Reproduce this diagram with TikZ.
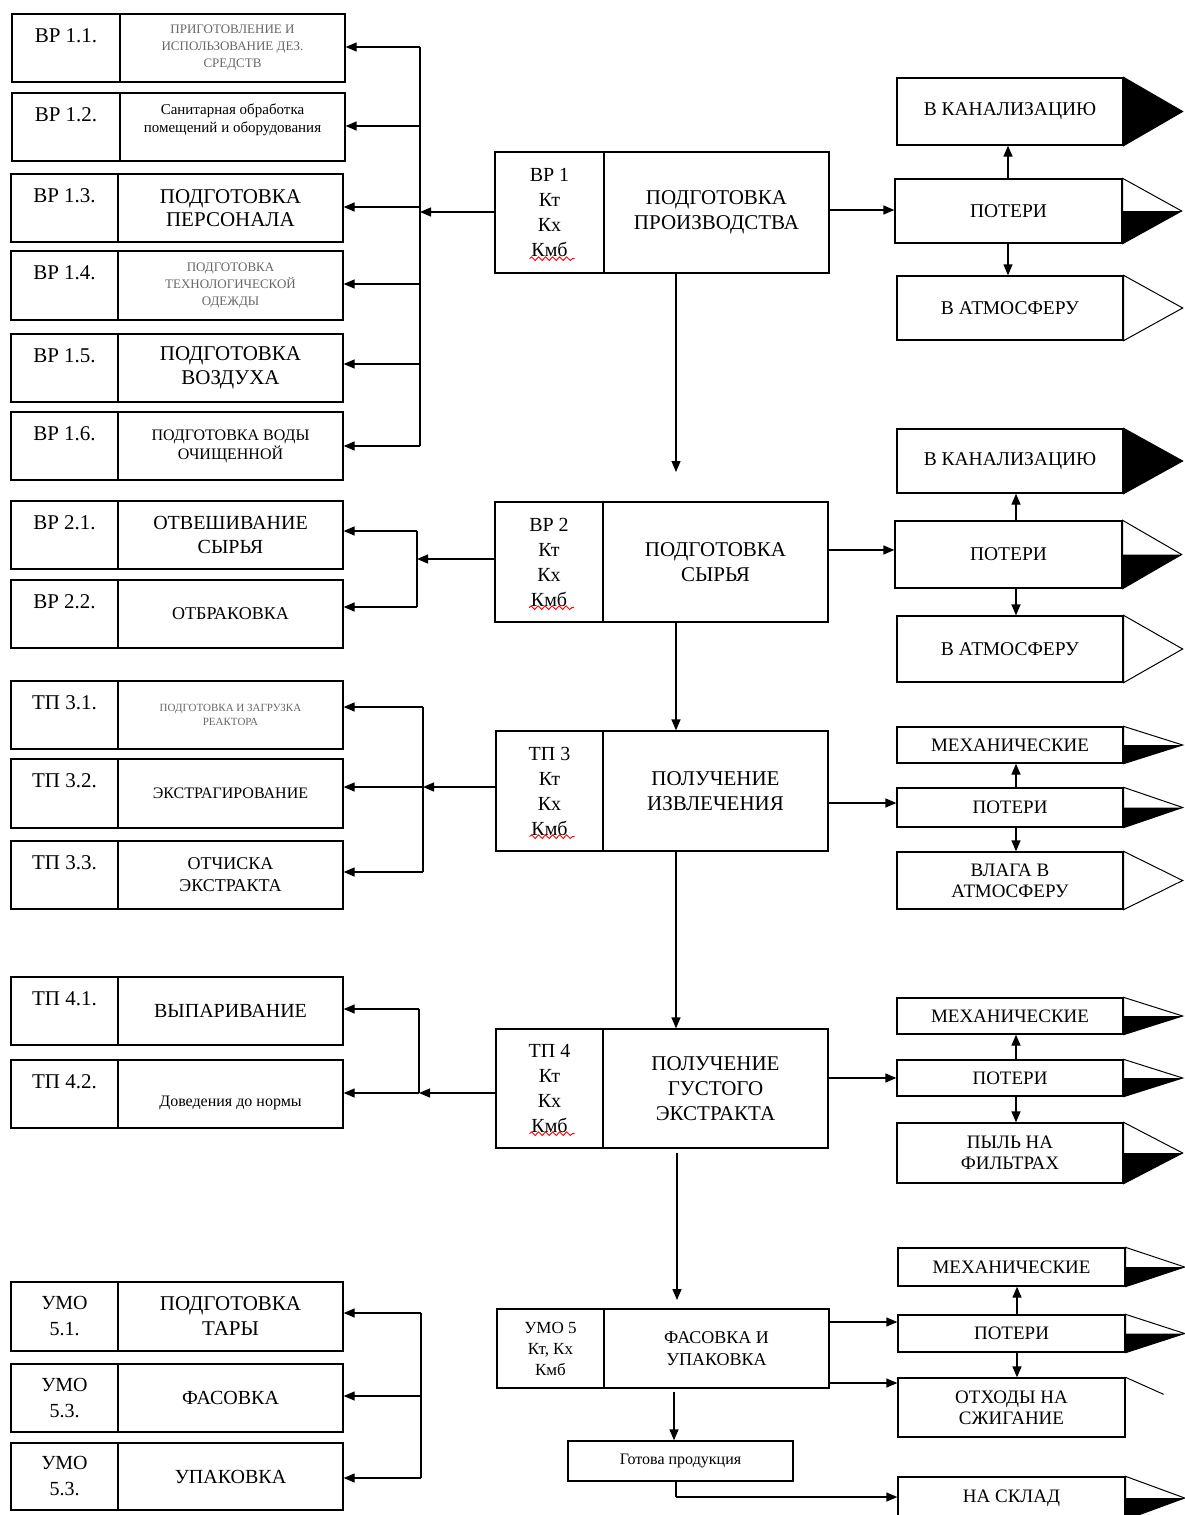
\documentclass[tikz,border=0pt]{standalone}
\usepackage{fontspec}
\setmainfont{Liberation Serif}
\usetikzlibrary{arrows.meta,calc,decorations.pathmorphing}
\newcommand\fsz[2]{\fontsize{#1}{#2}\selectfont}
\newcommand\bxn[6][]{\node[bx,#1, minimum width={(#5-#3)*1pt}, minimum height={(#6-#4)*1pt}] (#2) at ({(#3+#5)/2},{(#4+#6)/2})}
\newcommand\mytriB[1]{\filldraw[line width=1pt] (#1.north east) -- ($(#1.east)+(59,0)$) -- (#1.south east) -- cycle;}
\newcommand\mytriW[1]{\filldraw[tri] (#1.north east) -- ($(#1.east)+(59,0)$) -- (#1.south east) -- cycle;}
\newcommand\mytriH[1]{\filldraw[tri] (#1.north east) -- ($(#1.east)+(59,0)$) -- (#1.south east) -- cycle;
  \fill ($(#1.east)+(-0.5,0)$) -- ($(#1.east)+(59,0)$) -- (#1.south east) -- cycle;}
\begin{document}
\begin{tikzpicture}[x=1pt,y=-1pt,
 bx/.style={draw, line width=1.3pt, inner sep=0pt, align=center},
 lbl/.style={anchor=north, inner sep=0pt, yshift=-15pt, font=\fsz{21}{24}},
 clbl/.style={inner sep=0pt, align=center, font=\fsz{20}{26}},
 arr/.style={line width=1.3pt, -{Triangle[length=11pt,width=9pt]}},
 ln/.style={line width=1.3pt},
 wavy/.style={draw=red, line width=0.9pt, decorate, decoration={snake, amplitude=1.8pt, segment length=7pt}},
 tri/.style={draw, line width=1pt, fill=white},
 gr/.style={text=black!60},
 rt/.style={font=\fsz{19.5}{22}},
 rs/.style={font=\fsz{19}{21}},
 mk/.style={font=\fsz{20}{25}},
 mt/.style={font=\fsz{21}{25}},
]
\useasboundingbox (0,0) rectangle (1185,1515);

% ---------- left group 1
\bxn[label={[lbl]north:ВР 1.1.}]{l11a}{12}{14}{120}{82} {};
\bxn[font=\fsz{13}{17}, gr]{l11b}{120}{14}{345}{82} {ПРИГОТОВЛЕНИЕ И\\ИСПОЛЬЗОВАНИЕ ДЕЗ.\\СРЕДСТВ};
\bxn[label={[lbl]north:ВР 1.2.}]{l12a}{12}{93}{120}{161} {};
\bxn[label={[font=\fsz{15}{18}, align=center, yshift=7pt]center:Санитарная обработка\\помещений и оборудования}]{l12b}{120}{93}{345}{161} {};
\bxn[label={[lbl]north:ВР 1.3.}]{l13a}{11}{174}{118}{242} {};
\bxn[font=\fsz{21}{23}]{l13b}{118}{174}{343}{242} {ПОДГОТОВКА\\ПЕРСОНАЛА};
\bxn[label={[lbl]north:ВР 1.4.}]{l14a}{11}{251}{118}{320} {};
\bxn[font=\fsz{13}{17}, gr]{l14b}{118}{251}{343}{320} {ПОДГОТОВКА\\ТЕХНОЛОГИЧЕСКОЙ\\ОДЕЖДЫ};
\bxn[label={[lbl]north:ВР 1.5.}]{l15a}{11}{334}{118}{402} {};
\bxn[font=\fsz{21}{24}]{l15b}{118}{334}{343}{402} {ПОДГОТОВКА\\ВОЗДУХА};
\bxn[label={[lbl]north:ВР 1.6.}]{l16a}{11}{412}{118}{480} {};
\bxn[font=\fsz{16}{19}]{l16b}{118}{412}{343}{480} {ПОДГОТОВКА ВОДЫ\\ОЧИЩЕННОЙ};
% ---------- left group 2
\bxn[label={[lbl]north:ВР 2.1.}]{l21a}{11}{501}{118}{569} {};
\bxn[font=\fsz{20}{24}]{l21b}{118}{501}{343}{569} {ОТВЕШИВАНИЕ\\СЫРЬЯ};
\bxn[label={[lbl]north:ВР 2.2.}]{l22a}{11}{580}{118}{648} {};
\bxn[font=\fsz{18}{22}]{l22b}{118}{580}{343}{648} {ОТБРАКОВКА};
% ---------- left group 3
\bxn[label={[lbl]north:ТП 3.1.}]{l31a}{11}{681}{118}{749} {};
\bxn[font=\fsz{11}{14}, gr]{l31b}{118}{681}{343}{749} {ПОДГОТОВКА И ЗАГРУЗКА\\РЕАКТОРА};
\bxn[label={[lbl]north:ТП 3.2.}]{l32a}{11}{759}{118}{828} {};
\bxn[font=\fsz{16}{20}]{l32b}{118}{759}{343}{828} {ЭКСТРАГИРОВАНИЕ};
\bxn[label={[lbl]north:ТП 3.3.}]{l33a}{11}{841}{118}{909} {};
\bxn[font=\fsz{18}{22}]{l33b}{118}{841}{343}{909} {ОТЧИСКА\\ЭКСТРАКТА};
% ---------- left group 4
\bxn[label={[lbl]north:ТП 4.1.}]{l41a}{11}{977}{118}{1045} {};
\bxn[font=\fsz{20}{24}]{l41b}{118}{977}{343}{1045} {ВЫПАРИВАНИЕ};
\bxn[label={[lbl]north:ТП 4.2.}]{l42a}{11}{1060}{118}{1128} {};
\bxn[label={[font=\fsz{16}{20}, yshift=-9pt]center:Доведения до нормы}]{l42b}{118}{1060}{343}{1128} {};
% ---------- left group 5
\bxn[label={[clbl]center:УМО\\5.1.}]{l51a}{11}{1282}{118}{1351} {};
\bxn[font=\fsz{21}{25}]{l51b}{118}{1282}{343}{1351} {ПОДГОТОВКА\\ТАРЫ};
\bxn[label={[clbl]center:УМО\\5.3.}]{l52a}{11}{1364}{118}{1432} {};
\bxn[font=\fsz{20}{24}]{l52b}{118}{1364}{343}{1432} {ФАСОВКА};
\bxn[label={[clbl]center:УМО\\5.3.}]{l53a}{11}{1443}{118}{1510} {};
\bxn[font=\fsz{20}{24}]{l53b}{118}{1443}{343}{1510} {УПАКОВКА};

% ---------- main column
\bxn[mk]{m1a}{495}{152}{604}{273} {ВР 1\\Кт\\Кх\\Кмб};
\bxn[mt]{m1b}{604}{152}{829}{273} {ПОДГОТОВКА\\ПРОИЗВОДСТВА};
\bxn[mk]{m2a}{495}{502}{603}{622} {ВР 2\\Кт\\Кх\\Кмб};
\bxn[mt]{m2b}{603}{502}{828}{622} {ПОДГОТОВКА\\СЫРЬЯ};
\bxn[mk]{m3a}{496}{731}{603}{851} {ТП 3\\Кт\\Кх\\Кмб};
\bxn[mt]{m3b}{603}{731}{828}{851} {ПОЛУЧЕНИЕ\\ИЗВЛЕЧЕНИЯ};
\bxn[mk]{m4a}{496}{1029}{603}{1148} {ТП 4\\Кт\\Кх\\Кмб};
\bxn[mt]{m4b}{603}{1029}{828}{1148} {ПОЛУЧЕНИЕ\\ГУСТОГО\\ЭКСТРАКТА};
\bxn[font=\fsz{17}{21}]{m5a}{497}{1309}{604}{1388} {УМО 5\\Кт, Кх\\Кмб};
\bxn[font=\fsz{18}{22}]{m5b}{604}{1309}{829}{1388} {ФАСОВКА И\\УПАКОВКА};
\bxn[font=\fsz{16}{20}]{gp}{568}{1441}{793}{1481} {Готова продукция};

% spell-check underlines
\foreach \n in {m1a,m2a,m3a,m4a}
  \draw[wavy] ($(\n.south)+(-20,-15)$) -- ($(\n.south)+(25,-15)$);

% ---------- right groups
\bxn[rt]{r1a}{897}{78}{1123}{145} {В КАНАЛИЗАЦИЮ};
\bxn[rt]{r1b}{895}{179}{1122}{243} {ПОТЕРИ};
\bxn[rt]{r1c}{897}{276}{1123}{340} {В АТМОСФЕРУ};
\bxn[rt]{r2a}{897}{429}{1123}{493} {В КАНАЛИЗАЦИЮ};
\bxn[rt]{r2b}{895}{521}{1122}{588} {ПОТЕРИ};
\bxn[rt]{r2c}{897}{616}{1123}{682} {В АТМОСФЕРУ};
\bxn[rs]{r3a}{897}{727}{1123}{763} {МЕХАНИЧЕСКИЕ};
\bxn[rs]{r3b}{897}{788}{1123}{827} {ПОТЕРИ};
\bxn[rs]{r3c}{897}{852}{1123}{909} {ВЛАГА В\\АТМОСФЕРУ};
\bxn[rs]{r4a}{897}{998}{1123}{1034} {МЕХАНИЧЕСКИЕ};
\bxn[rs]{r4b}{897}{1060}{1123}{1096} {ПОТЕРИ};
\bxn[rs]{r4c}{897}{1123}{1123}{1183} {ПЫЛЬ НА\\ФИЛЬТРАХ};
\bxn[rs]{r5a}{898}{1248}{1125}{1286} {МЕХАНИЧЕСКИЕ};
\bxn[rs]{r5b}{898}{1315}{1125}{1352} {ПОТЕРИ};
\bxn[rs]{r5c}{898}{1378}{1125}{1437} {ОТХОДЫ НА\\СЖИГАНИЕ};
\bxn[rs]{r5d}{898}{1477}{1125}{1519} {НА СКЛАД};

\mytriB{r1a} \mytriH{r1b} \mytriW{r1c}
\mytriB{r2a} \mytriH{r2b} \mytriW{r2c}
\mytriH{r3a} \mytriH{r3b} \mytriW{r3c}
\mytriH{r4a} \mytriH{r4b} \mytriH{r4c}
\mytriH{r5a} \mytriH{r5b} \mytriH{r5d}
\draw[line width=1pt] (r5c.north east) -- ($(r5c.north east)+(38,17)$);

% ---------- left buses
\foreach \y [count=\i] in {47,126,207,284,364,446} \coordinate (a\i) at (420,\y);
\draw[ln] (a1) -- (a6);
\draw[arr] (a1) -- (a1 -| l11b.east);
\draw[arr] (a2) -- (a2 -| l12b.east);
\draw[arr] (a3) -- (a3 -| l13b.east);
\draw[arr] (a4) -- (a4 -| l14b.east);
\draw[arr] (a5) -- (a5 -| l15b.east);
\draw[arr] (a6) -- (a6 -| l16b.east);
\coordinate (ain) at (420,212);
\draw[arr] (ain -| m1a.west) -- (ain);

\coordinate (b1) at (417,531); \coordinate (b2) at (417,607); \coordinate (bin) at (417,559);
\draw[ln] (b1) -- (b2);
\draw[arr] (b1) -- (b1 -| l21b.east);
\draw[arr] (b2) -- (b2 -| l22b.east);
\draw[arr] (bin -| m2a.west) -- (bin);

\coordinate (c1) at (423,707); \coordinate (c2) at (423,787); \coordinate (c3) at (423,872);
\draw[ln] (c1) -- (c3);
\draw[arr] (c1) -- (c1 -| l31b.east);
\draw[arr] (c2) -- (c2 -| l32b.east);
\draw[arr] (c3) -- (c3 -| l33b.east);
\draw[arr] (c2 -| m3a.west) -- (c2);

\coordinate (d1) at (419,1009); \coordinate (d2) at (419,1093);
\draw[ln] (d1) -- (d2);
\draw[arr] (d1) -- (d1 -| l41b.east);
\draw[arr] (d2) -- (d2 -| l42b.east);
\draw[arr] (d2 -| m4a.west) -- (d2);

\coordinate (e1) at (421,1313); \coordinate (e2) at (421,1396); \coordinate (e3) at (421,1478);
\draw[ln] (e1) -- (e3);
\draw[arr] (e1) -- (e1 -| l51b.east);
\draw[arr] (e2) -- (e2 -| l52b.east);
\draw[arr] (e3) -- (e3 -| l53b.east);

% ---------- main vertical flow
\coordinate (v1) at (676,472);
\draw[arr] (v1 |- m1b.south) -- (v1);
\coordinate (v2) at (676,0);
\draw[arr] (v2 |- m2b.south) -- (v2 |- m3b.north);
\draw[arr] (v2 |- m3b.south) -- (v2 |- m4b.north);
\coordinate (v3s) at (677,1153); \coordinate (v3e) at (677,1300);
\draw[arr] (v3s) -- (v3e);
\coordinate (v4) at (674,1392);
\draw[arr] (v4) -- (v4 |- gp.north);
\coordinate (v5) at (676,1497);
\draw[ln] (v5 |- gp.south) -- (v5);
\draw[arr] (v5) -- (v5 -| r5d.west);

% ---------- right outputs
\coordinate (o1) at (0,210); \coordinate (o2) at (0,550); \coordinate (o3) at (0,803);
\coordinate (o4) at (0,1078); \coordinate (o5) at (0,1322); \coordinate (o6) at (0,1383);
\draw[arr] (o1 -| m1b.east) -- (o1 -| r1b.west);
\draw[arr] (o2 -| m2b.east) -- (o2 -| r2b.west);
\draw[arr] (o3 -| m3b.east) -- (o3 -| r3b.west);
\draw[arr] (o4 -| m4b.east) -- (o4 -| r4b.west);
\draw[arr] (o5 -| m5b.east) -- (o5 -| r5b.west);
\draw[arr] (o6 -| m5b.east) -- (o6 -| r5c.west);

% ---------- right group verticals
\coordinate (g1) at (1008,0); \coordinate (g2) at (1016,0); \coordinate (g5) at (1017,0);
\draw[arr] (g1 |- r1b.north) -- (g1 |- r1a.south);
\draw[arr] (g1 |- r1b.south) -- (g1 |- r1c.north);
\draw[arr] (g2 |- r2b.north) -- (g2 |- r2a.south);
\draw[arr] (g2 |- r2b.south) -- (g2 |- r2c.north);
\draw[arr] (g2 |- r3b.north) -- (g2 |- r3a.south);
\draw[arr] (g2 |- r3b.south) -- (g2 |- r3c.north);
\draw[arr] (g2 |- r4b.north) -- (g2 |- r4a.south);
\draw[arr] (g2 |- r4b.south) -- (g2 |- r4c.north);
\draw[arr] (g5 |- r5b.north) -- (g5 |- r5a.south);
\draw[arr] (g5 |- r5b.south) -- (g5 |- r5c.north);
\end{tikzpicture}
\end{document}
